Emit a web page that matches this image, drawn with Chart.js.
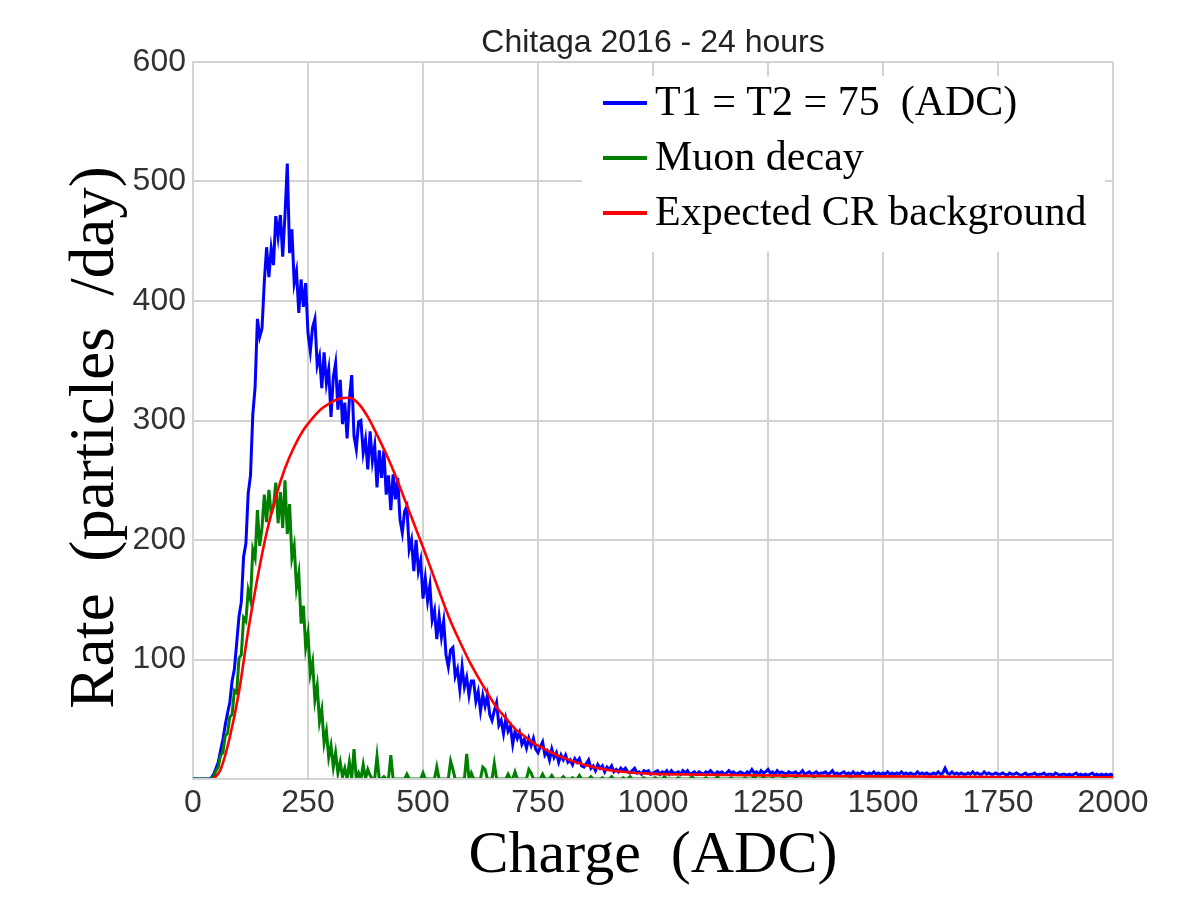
<!DOCTYPE html>
<html>
<head>
<meta charset="utf-8">
<title>Chitaga 2016 - 24 hours</title>
<script src="https://cdn.jsdelivr.net/npm/chart.js@4.4.1/dist/chart.umd.min.js"></script>
<style>
  html, body { margin: 0; padding: 0; background: #fff; }
  canvas { display: block; }
</style>
</head>
<body>
<canvas id="chart" width="1191" height="905"></canvas>
<script>
// ---------- DATA ----------
const TITLE = 'Chitaga 2016 - 24 hours';
const X_TITLE = 'Charge  (ADC)';
const Y_TITLE = 'Rate  (particles  /day)';
const xTicks = [0, 250, 500, 750, 1000, 1250, 1500, 1750, 2000];
const yTicks = [0, 100, 200, 300, 400, 500, 600];

const labels = ['T1 = T2 = 75  (ADC)', 'Muon decay', 'Expected CR background'];

// histogram bins, 5 ADC wide, starting at 0
const BIN_WIDTH = 5;

// T1 = T2 = 75 (ADC), one value per bin (rows of 100 ADC)
const blueRate = [
  0,0,0,0,0,0,0,0,1,4,9,14,24,33,45,55,64,82,92,114,
  136,148,186,197,239,254,305,328,385,370,377,416,445,420,444,430,471,454,472,437,
  472,515,440,460,415,425,390,418,395,415,373,358,378,385,346,354,327,357,331,343,
  303,336,348,309,334,297,315,285,318,338,287,276,299,300,273,284,259,291,266,279,
  244,275,252,275,238,254,225,255,234,252,217,206,224,228,192,200,174,200,174,183,
  151,168,149,162,133,141,117,136,119,132,104,94,108,110,86,92,75,94,77,85,
  70,82,82,65,73,57,70,61,70,54,49,57,64,45,49,38,50,40,44,29,
  40,34,39,29,33,26,34,28,34,25,22,27,31,20,23,16,25,18,22,14,
  20,16,20,14,16,12,17,14,17,11,10,13,16,9,11,7,12,9,11,6,
  10,8,11,6,8,6,9,7,9,6,5,7,9,5,6,4,7,6,7,4,
  5,6,7,4,6,5,7,4,7,5,5,6,4,7,5,7,4,5,6,4,
  6,5,4,6,5,7,5,4,6,5,6,4,5,7,5,6,4,5,6,5,
  4,6,5,8,5,6,4,7,5,6,8,5,6,4,7,5,6,5,4,6,
  5,5,6,4,5,7,4,5,6,4,5,6,4,5,5,6,4,5,7,4,
  5,4,5,6,4,5,4,6,4,5,4,6,5,4,5,4,6,4,5,4,
  5,4,6,4,5,4,5,4,6,4,5,4,5,4,4,6,4,5,4,5,
  4,4,5,4,6,4,5,9,5,4,6,4,5,4,5,4,4,5,4,6,
  4,5,4,4,6,4,5,4,4,5,4,4,5,4,3,5,4,4,5,4,
  3,4,5,3,4,4,5,3,4,4,5,3,4,4,3,5,4,3,4,4,
  3,4,3,4,5,3,4,3,4,3,4,5,3,4,3,4,3,4,3,4,
  3
];

// Muon decay, same bins
const greenRate = [
  0,0,0,0,0,0,0,0,0,2,7,10,20,22,36,38,52,54,74,72,
  101,104,135,132,158,150,192,185,225,195,210,238,215,242,222,228,248,214,240,210,
  250,205,230,185,195,160,172,130,145,110,122,88,98,66,78,48,58,30,40,18,
  28,10,22,5,14,2,9,0,14,0,25,0,5,0,12,0,8,3,0,0,
  19,0,0,2,0,0,20,0,0,0,0,0,0,4,0,0,0,0,0,0,
  5,0,0,0,0,0,10,0,0,0,0,0,15,8,0,0,0,0,0,21,
  0,5,0,0,0,0,10,8,0,0,0,13,0,0,0,0,0,4,0,0,
  6,0,0,0,0,0,8,5,0,0,0,0,4,0,0,0,3,0,0,0,
  0,2,0,0,0,1,0,0,3,0,0,0,0,2,0,0,0,0,1,0,
  0,0,2,0,0,0,0,1,0,0,2,0,0,0,0,0,1,0,0,0,
  0,1,0,0,0,2,0,0,0,0,0,1,0,0,0,0,0,2,0,0,
  0,0,0,1,0,0,0,0,2,0,0,0,0,0,1,0,0,0,0,0,
  1,0,0,0,3,0,0,0,2,0,0,0,1,0,0,0,0,2,0,0,
  0,0,1,0,0,0,0,0,0,0,1,0,0,0,0,0,0,0,0,0,
  0,0,0,0,0,0,1,0,0,0,0,0,0,0,0,0,0,0,0,0,
  0,0,0,0,0,0,0,0,0,0,0,0,0,0,0,0,0,0,0,0,
  0,0,0,0,0,0,2,0,0,0,0,0,0,0,0,0,0,0,0,0,
  0,0,0,0,0,0,0,0,0,0,0,0,0,0,0,0,0,0,0,0,
  0,0,0,0,0,0,0,0,0,0,0,0,0,0,0,0,0,0,0,0,
  0,0,0,0,0,0,0,0,0,0,0,0,0,0,0,0,0,0,0,0,
  0
];

// Expected CR background (smooth curve, read at these charges)
const redCharge = [45,60,80,100,120,140,160,180,200,220,240,260,280,300,320,340,360,380,400,420,440,460,480,500,520,540,560,580,600,620,640,660,680,700,720,740,760,780,800,850,900,950,1000,1100,1200,1300,1400,1500,1600,1700,1800,1900,2000];
const redRate = [0,8,35,73,124,168,206,236,260,278,292,302,310,315,318.5,319,314,303,288,272,254,234,214,194,173,152,132,115,99,85,72,60,51,42,36,30,26,22,18.5,12,7.8,5.5,4.3,3.7,3.2,2.8,2.5,2.2,2.0,1.8,1.6,1.5,1.4];

const colors = ['#0000ff', '#008000', '#ff0000'];

// ---------- helpers ----------
const binCharge = blueRate.map((_, i) => i * BIN_WIDTH);
const pts = (xs, ys) => ys.map((y, i) => ({ x: xs[i], y }));

const GRID = '#d3d3d3';
const TICK_FONT = { family: '"Liberation Sans", Arial, sans-serif', size: 32 };
const SERIF = '"Liberation Serif", "Times New Roman", serif';

// title, rotated y title and legend box, drawn on top
const overlay = {
  id: 'overlay',
  afterDraw(chart){
    const { ctx, chartArea: a } = chart;
    ctx.save();
    ctx.fillStyle = '#222';
    ctx.font = '32px "Liberation Sans", Arial, sans-serif';
    ctx.textAlign = 'center';
    ctx.textBaseline = 'alphabetic';
    ctx.fillText(TITLE, (a.left + a.right) / 2, a.top - 10);

    ctx.translate(a.left - 97, (a.top + a.bottom) / 2 + 17);
    ctx.rotate(-Math.PI / 2);
    ctx.font = '63px ' + SERIF;
    ctx.fillStyle = '#000';
    ctx.textBaseline = 'middle';
    ctx.fillText(Y_TITLE, 0, 0);
    ctx.restore();

    const bx = a.right - 531, by = a.top + 14;
    ctx.save();
    ctx.fillStyle = '#fff';
    ctx.fillRect(bx, by, 523, 176);
    ctx.font = '42px ' + SERIF;
    ctx.textBaseline = 'middle';
    chart.data.datasets.forEach((ds, i) => {
      const y = by + 27 + i * 55;
      ctx.strokeStyle = ds.borderColor;
      ctx.lineWidth = 4;
      ctx.beginPath();
      ctx.moveTo(bx + 21, y);
      ctx.lineTo(bx + 65, y);
      ctx.stroke();
      ctx.fillStyle = '#000';
      ctx.fillText(ds.label, bx + 73, y + 1);
    });
    ctx.restore();
  }
};

const lineSet = (label, data, color, order, width) => ({
  label, data, order,
  borderColor: color,
  backgroundColor: color,
  borderWidth: width,
  pointRadius: 0,
  tension: 0,
  clip: { left: 0, top: 5, right: 0, bottom: -1 }
});

new Chart(document.getElementById('chart'), {
  type: 'line',
  data: {
    datasets: [
      lineSet(labels[0], pts(binCharge, blueRate), colors[0], 3, 3),
      lineSet(labels[1], pts(binCharge, greenRate), colors[1], 2, 3),
      Object.assign(lineSet(labels[2], pts(redCharge, redRate), colors[2], 1, 2.6), { cubicInterpolationMode: 'monotone' })
    ]
  },
  options: {
    responsive: false,
    animation: false,
    devicePixelRatio: 1,
    parsing: false,
    layout: { padding: { left: 0, right: 78, top: 62, bottom: 0 } },
    plugins: {
      legend: { display: false },
      tooltip: { enabled: false },
      title: { display: false }
    },
    scales: {
      x: {
        type: 'linear',
        min: xTicks[0], max: xTicks[xTicks.length - 1],
        afterBuildTicks: s => { s.ticks = xTicks.map(v => ({ value: v })); },
        afterFit: s => { s.height = 126; },
        ticks: { font: TICK_FONT, color: '#333', padding: 5, maxRotation: 0, autoSkip: false, callback: v => String(v) },
        grid: { color: GRID, lineWidth: 2, drawTicks: false },
        border: { color: GRID, width: 2 },
        title: {
          display: true,
          text: X_TITLE,
          color: '#000',
          font: { family: SERIF, size: 60, lineHeight: 1 },
          padding: { top: 0, bottom: 19 }
        }
      },
      y: {
        type: 'linear',
        min: yTicks[0], max: yTicks[yTicks.length - 1],
        afterBuildTicks: s => { s.ticks = yTicks.map(v => ({ value: v })); },
        afterFit: s => { s.width = 193; },
        ticks: { font: TICK_FONT, color: '#333', padding: 7, callback: v => v === 0 ? '' : String(v) },
        grid: { color: GRID, lineWidth: 2, drawTicks: false },
        border: { color: GRID, width: 2 }
      }
    }
  },
  plugins: [overlay]
});
</script>
</body>
</html>
